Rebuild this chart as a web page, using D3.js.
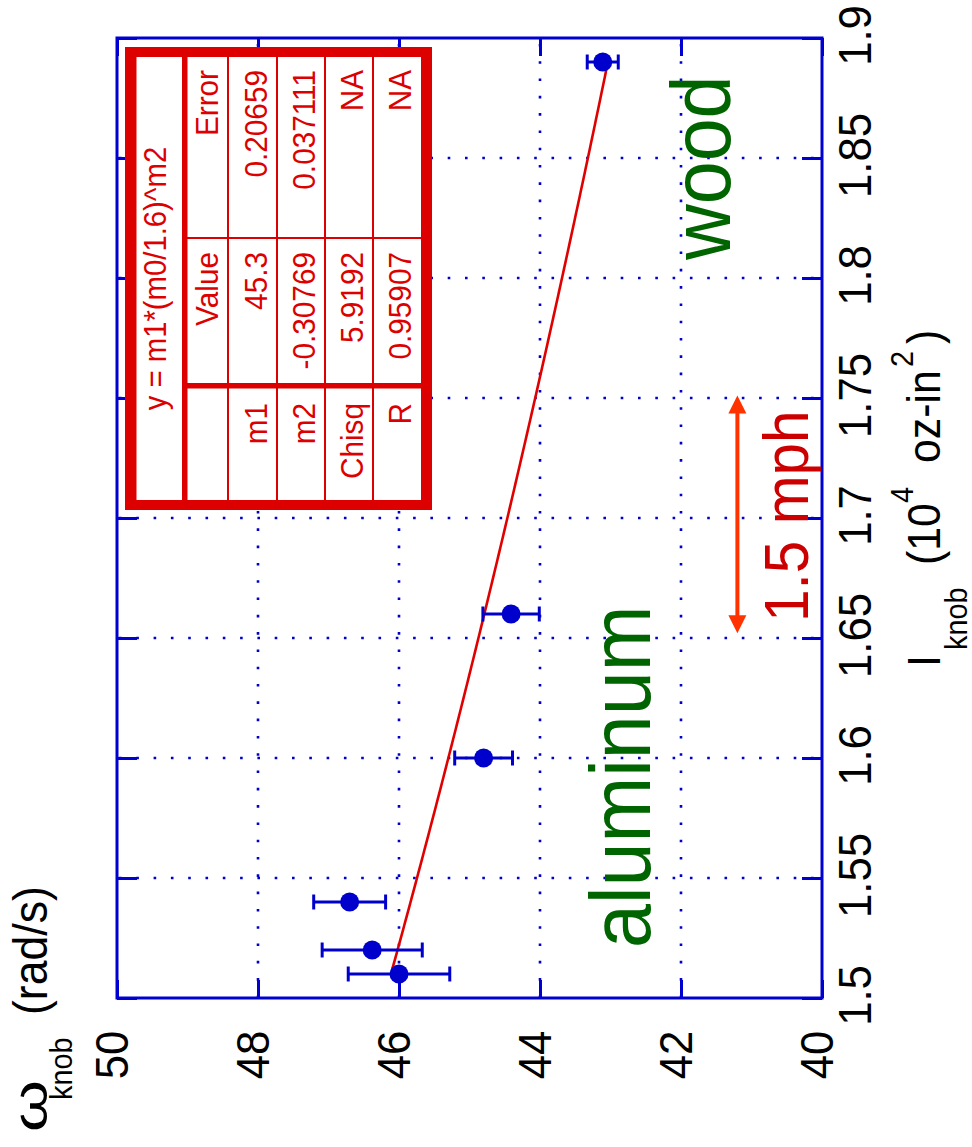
<!DOCTYPE html>
<html>
<head>
<meta charset="utf-8">
<script src="https://cdn.jsdelivr.net/npm/d3@7"></script>
<style>
  html, body { margin: 0; padding: 0; background: #fff; }
  svg { display: block; }
  text { font-family: "Liberation Sans", Arial, Helvetica, sans-serif; }
</style>
</head>
<body>
<svg id="chart" width="972" height="1147"></svg>
<script>
// Knob moment of inertia (10^4 oz-in^2) vs. measured angular speed (rad/s)
const inertia  = [1.510, 1.520, 1.540, 1.600, 1.660, 1.890];
const omega    = [46.00, 46.38, 46.70, 44.80, 44.41, 43.11];
const omegaErr = [0.72, 0.71, 0.51, 0.41, 0.40, 0.22];

const omegaTicks = [50, 48, 46, 44, 42, 40];
const inertiaTicks = [1.5, 1.55, 1.6, 1.65, 1.7, 1.75, 1.8, 1.85, 1.9];
const inertiaTickLabels = ["1.5", "1.55", "1.6", "1.65", "1.7", "1.75", "1.8", "1.85", "1.9"];

// Power-law fit y = m1*(m0/1.6)^m2
const fitTitle = "y = m1*(m0/1.6)^m2";
const fitHeader = ["", "Value", "Error"];
const fitNames  = ["m1", "m2", "Chisq", "R"];
const fitValues = ["45.3", "-0.30769", "5.9192", "0.95907"];
const fitErrors = ["0.20659", "0.037111", "NA", "NA"];
const fitM1 = 45.3, fitM2 = -0.30769;
const fitRange = [1.512, 1.888];

// Speed-difference annotation
const speedArrowOmega = 41.2;
const speedArrowSpan = [1.652, 1.751];
const speedLabel = "1.5 mph";

const BLUE = "#0000d0", DOT = "#0000cc", RED = "#dc0000", GREEN = "#006400";
const SX = 0.93; // horizontal glyph compression of the rotated text

const svg = d3.select("#chart");

// The plot is drawn turned a quarter-turn: omega runs right-to-left along the
// bottom, inertia runs bottom-to-top along the right side.
const w = d3.scaleLinear().domain([50, 40]).range([117, 822]);
const I = d3.scaleLinear().domain([1.5, 1.9]).range([998, 38]);

function rtext(sel, x, y, str, size, fill, anchor) {
  return sel.append("text")
    .attr("transform", `translate(${x},${y}) rotate(-90) scale(${SX},1)`)
    .attr("font-size", size)
    .attr("fill", fill)
    .attr("text-anchor", anchor)
    .text(str);
}

// dotted grid
const grid = svg.append("g")
  .attr("stroke", DOT).attr("stroke-width", 2.6)
  .attr("stroke-dasharray", "2.6 14.7");
grid.selectAll("line.v").data(omegaTicks.slice(1, -1)).join("line")
  .attr("class", "v")
  .attr("x1", d => w(d)).attr("x2", d => w(d))
  .attr("y1", I(1.5)).attr("y2", I(1.9));
grid.selectAll("line.h").data(inertiaTicks.slice(1, -1)).join("line")
  .attr("class", "h")
  .attr("y1", d => I(d)).attr("y2", d => I(d))
  .attr("x1", w(50) + 2).attr("x2", w(40));

function styleAxis(g) {
  g.select(".domain").remove();
  g.selectAll(".tick line").attr("stroke", BLUE).attr("stroke-width", 3);
  g.attr("font-family", null).attr("font-size", null);
}

// omega axis (bottom) with labels
const axBottom = svg.append("g").attr("transform", `translate(0,${I(1.5)})`)
  .call(d3.axisBottom(w).tickValues(omegaTicks).tickSizeInner(-18).tickSizeOuter(0).tickFormat(d3.format("d")));
styleAxis(axBottom);
axBottom.selectAll(".tick text")
  .attr("x", null).attr("y", null).attr("dy", null)
  .attr("transform", `translate(10,57) rotate(-90) scale(${SX},1)`)
  .attr("text-anchor", "middle").attr("font-size", 47).attr("fill", "#000");

// omega axis (top), ticks only
const axTop = svg.append("g").attr("transform", `translate(0,${I(1.9)})`)
  .call(d3.axisTop(w).tickValues(omegaTicks).tickSizeInner(-18).tickSizeOuter(0).tickFormat(""));
styleAxis(axTop);
axTop.selectAll(".tick text").remove();

// inertia axis (right) with labels
const axRight = svg.append("g").attr("transform", `translate(${w(40)},0)`)
  .call(d3.axisRight(I).tickValues(inertiaTicks).tickSizeInner(-20).tickSizeOuter(0)
    .tickFormat((d, i) => inertiaTickLabels[i]));
styleAxis(axRight);
axRight.selectAll(".tick text")
  .attr("x", null).attr("y", null).attr("dy", null)
  .attr("transform", `translate(49,-3) rotate(-90) scale(${SX},1)`)
  .attr("text-anchor", "middle").attr("font-size", 47).attr("fill", "#000");

// inertia axis (left), ticks only
const axLeft = svg.append("g").attr("transform", `translate(${w(50)},0)`)
  .call(d3.axisLeft(I).tickValues(inertiaTicks).tickSizeInner(-20).tickSizeOuter(0).tickFormat(""));
styleAxis(axLeft);
axLeft.selectAll(".tick text").remove();

// plot frame
svg.append("rect")
  .attr("x", w(50)).attr("y", I(1.9))
  .attr("width", w(40) - w(50)).attr("height", I(1.5) - I(1.9))
  .attr("fill", "none").attr("stroke", BLUE).attr("stroke-width", 3);

// fitted curve
const fitPts = d3.range(fitRange[0], fitRange[1] + 1e-9, 0.002);
svg.append("path")
  .datum(fitPts)
  .attr("fill", "none").attr("stroke", "#e00000").attr("stroke-width", 2.6)
  .attr("d", d3.line().x(m0 => w(fitM1 * Math.pow(m0 / 1.6, fitM2))).y(m0 => I(m0)));

// error bars and points
const pts = inertia.map((m0, i) => ({ m0, om: omega[i], e: omegaErr[i] }));
const eb = svg.append("g").attr("stroke", DOT).attr("stroke-width", 3);
eb.selectAll("line.bar").data(pts).join("line").attr("class", "bar")
  .attr("x1", d => w(d.om - d.e)).attr("x2", d => w(d.om + d.e))
  .attr("y1", d => I(d.m0)).attr("y2", d => I(d.m0));
eb.selectAll("line.capA").data(pts).join("line").attr("class", "capA")
  .attr("x1", d => w(d.om - d.e)).attr("x2", d => w(d.om - d.e))
  .attr("y1", d => I(d.m0) - 7.5).attr("y2", d => I(d.m0) + 7.5);
eb.selectAll("line.capB").data(pts).join("line").attr("class", "capB")
  .attr("x1", d => w(d.om + d.e)).attr("x2", d => w(d.om + d.e))
  .attr("y1", d => I(d.m0) - 7.5).attr("y2", d => I(d.m0) + 7.5);
svg.append("g").selectAll("circle").data(pts).join("circle")
  .attr("cx", d => w(d.om)).attr("cy", d => I(d.m0)).attr("r", 9.5)
  .attr("fill", DOT);

// fit results table
const tb = svg.append("g");
const rowEdges = [187, 228, 277, 325, 373, 421];         // header, m1, m2, Chisq, R
const colLabel = [388, 500], colValue = [238, 383], colError = [57, 238];
tb.append("rect").attr("x", 125).attr("y", 47).attr("width", 307).attr("height", 463).attr("fill", RED);
tb.append("rect").attr("x", 136.5).attr("y", 57).attr("width", 421 - 136.5).attr("height", 500 - 57).attr("fill", "#fff");
tb.append("rect").attr("x", 182).attr("y", 57).attr("width", 5.5).attr("height", 443).attr("fill", RED);
tb.append("rect").attr("x", 187).attr("y", 383).attr("width", 421 - 187).attr("height", 5.5).attr("fill", RED);
tb.selectAll("line.row").data(rowEdges.slice(1, -1)).join("line").attr("class", "row")
  .attr("x1", d => d).attr("x2", d => d).attr("y1", 57).attr("y2", 500)
  .attr("stroke", RED).attr("stroke-width", 2);
tb.append("line").attr("x1", 187).attr("x2", 421).attr("y1", colValue[0]).attr("y2", colValue[0])
  .attr("stroke", RED).attr("stroke-width", 2);

rtext(tb, 166, (colError[0] + colLabel[1]) / 2, fitTitle, 31.5, RED, "middle");
const rows = [fitHeader].concat(fitNames.map((n, i) => [n, fitValues[i], fitErrors[i]]));
rows.forEach((r, i) => {
  const base = rowEdges[i + 1] - 10.5;
  rtext(tb, base, 403, r[0], 32, RED, "end");
  rtext(tb, base, 252, r[1], 32, RED, "end");
  rtext(tb, base, 70, r[2], 32, RED, "end");
});

// material labels
rtext(svg, 730, 260, "wood", 83, GREEN, "start");
rtext(svg, 650, 948, "aluminum", 85, GREEN, "start");

// speed-difference arrow
const ax = w(speedArrowOmega), yTop = I(speedArrowSpan[1]), yBot = I(speedArrowSpan[0]);
const ARROW = "#ff3300";
svg.append("line").attr("x1", ax).attr("x2", ax).attr("y1", yTop + 12).attr("y2", yBot - 12)
  .attr("stroke", ARROW).attr("stroke-width", 4);
svg.append("path").attr("fill", ARROW)
  .attr("d", `M${ax},${yTop} L${ax - 9},${yTop + 18} L${ax + 9},${yTop + 18} Z`);
svg.append("path").attr("fill", ARROW)
  .attr("d", `M${ax},${yBot} L${ax - 9},${yBot - 18} L${ax + 9},${yBot - 18} Z`);
rtext(svg, 808, 622, speedLabel, 63, "#cc0000", "start");

// axis titles
const tw = rtext(svg, 47, 1132, "ω", 48, "#000", "start");
tw.attr("textLength", 56).attr("lengthAdjust", "spacingAndGlyphs");
rtext(svg, 72, 1100, "knob", 31, "#000", "start");
rtext(svg, 47, 1015, "(rad/s)", 48, "#000", "start");

rtext(svg, 940, 667, "I", 46, "#000", "start");
rtext(svg, 967, 650, "knob", 31, "#000", "start");
rtext(svg, 940, 565, "(10", 46, "#000", "start");
rtext(svg, 913, 503, "4", 31, "#000", "start");
rtext(svg, 940, 463, "oz-in", 46, "#000", "start");
rtext(svg, 913, 367, "2", 31, "#000", "start");
rtext(svg, 940, 344, ")", 46, "#000", "start");
</script>
</body>
</html>
